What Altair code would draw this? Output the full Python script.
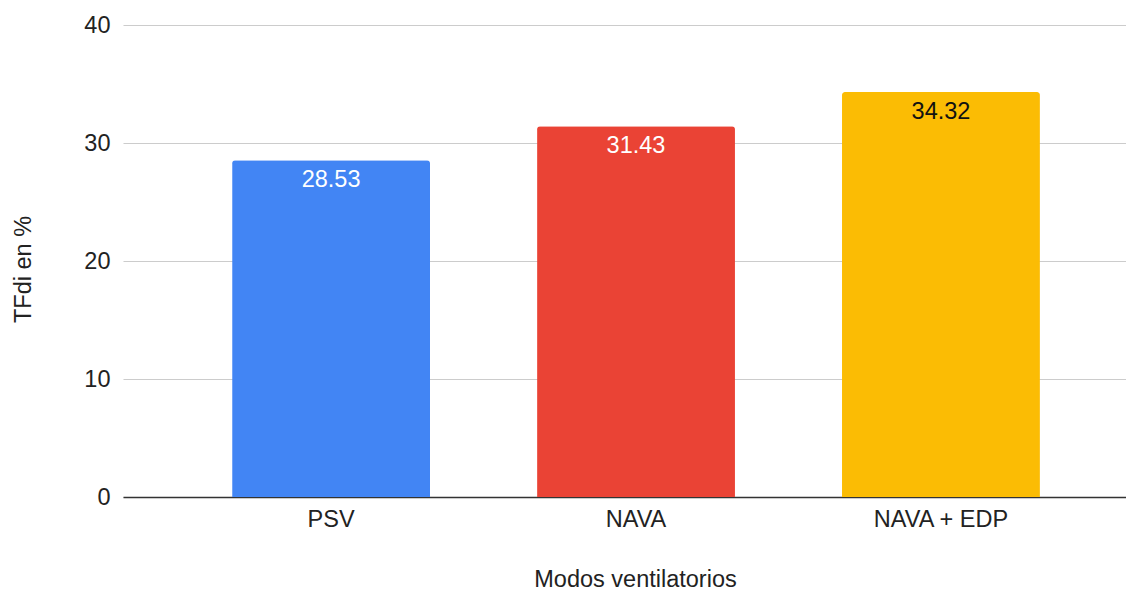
import altair as alt
import pandas as pd

modos = ["PSV", "NAVA", "NAVA + EDP"]
tfdi = [28.53, 31.43, 34.32]
y_ticks = [0, 10, 20, 30, 40]

df = pd.DataFrame({"Modo": modos, "TFdi": tfdi})

FONT = "Liberation Sans"
FS = 23.5

x_enc = alt.X(
    "Modo:N",
    sort=modos,
    scale=alt.Scale(paddingInner=0.351, paddingOuter=0.32, align=0.559),
    axis=alt.Axis(
        title="Modos ventilatorios",
        labelAngle=0,
        labelFont=FONT,
        labelFontSize=FS,
        labelColor="#222222",
        labelPadding=10,
        ticks=False,
        grid=False,
        domainColor="#333333",
        domainWidth=1.5,
        titleFont=FONT,
        titleFontSize=FS,
        titleFontWeight="normal",
        titleColor="#222222",
        titleX=512,
        titleY=89,
        titleBaseline="alphabetic",
        titleAnchor="start",
        titleAlign="center",
    ),
)

y_enc = alt.Y(
    "TFdi:Q",
    scale=alt.Scale(domain=[0, 40], nice=False),
    axis=alt.Axis(
        title="TFdi en %",
        values=y_ticks,
        labelFont=FONT,
        labelFontSize=FS,
        labelColor="#222222",
        labelPadding=13,
        ticks=False,
        domain=False,
        gridColor="#cccccc",
        gridWidth=1.2,
        titleFont=FONT,
        titleFontSize=FS,
        titleFontWeight="normal",
        titleColor="#222222",
        titleX=-93,
        titleY=244,
        titleBaseline="alphabetic",
        titleAngle=270,
        titleAlign="center",
    ),
)

bars = alt.Chart(df).mark_bar(
    cornerRadiusTopLeft=3, cornerRadiusTopRight=3
).encode(
    x=x_enc,
    y=y_enc,
    color=alt.Color(
        "Modo:N",
        scale=alt.Scale(domain=modos, range=["#4285F4", "#EA4335", "#FBBC04"]),
        legend=None,
    ),
)

labels = alt.Chart(df).mark_text(
    font=FONT, fontSize=FS, baseline="alphabetic", dy=27
).encode(
    x=alt.X("Modo:N", sort=modos),
    y=alt.Y("TFdi:Q"),
    text=alt.Text("TFdi:Q", format=".2f"),
    color=alt.condition(
        alt.datum.Modo == "NAVA + EDP", alt.value("#111111"), alt.value("#ffffff")
    ),
)

chart = (
    alt.layer(bars, labels)
    .properties(
        width=1003,
        height=472,
        autosize=alt.AutoSizeParams(type="none"),
        padding={"left": 115, "top": 17, "right": 0, "bottom": 100},
    )
    .configure(background="white")
    .configure_view(strokeWidth=0, stroke="transparent")
)

chart.save("out.html", embed_options={"renderer": "svg", "actions": False})
